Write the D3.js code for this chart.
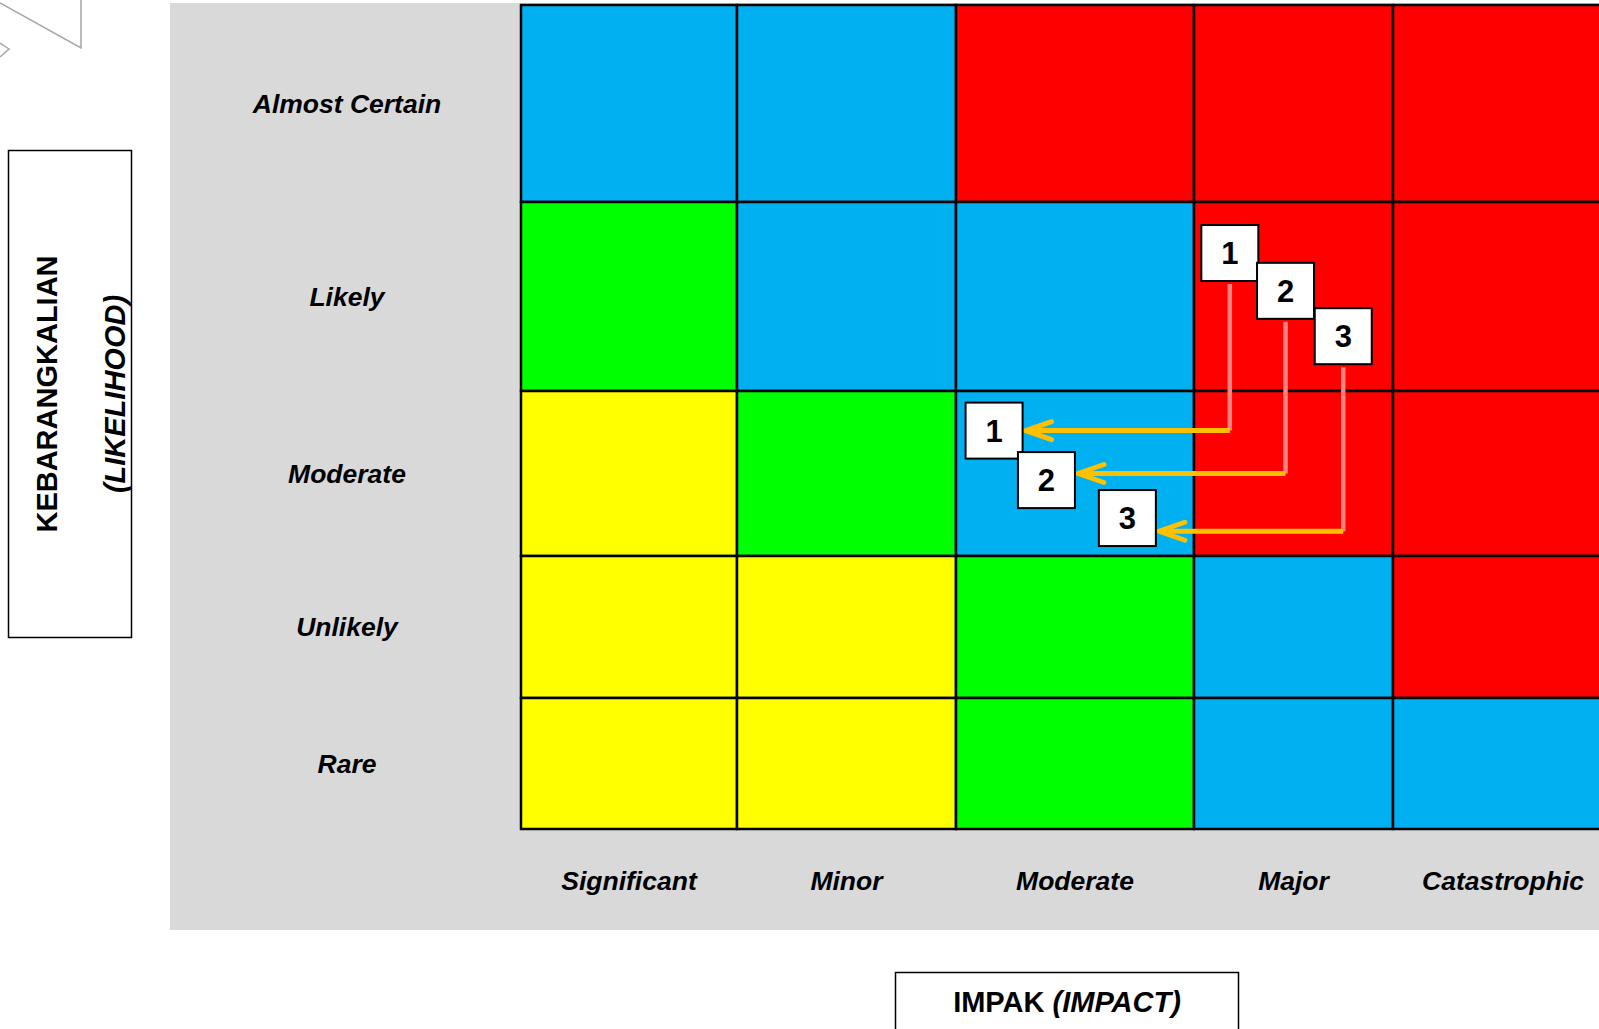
<!DOCTYPE html>
<html>
<head>
<meta charset="utf-8">
<script src="https://cdn.jsdelivr.net/npm/d3@7"></script>
<style>
  html, body { margin: 0; padding: 0; background: #fff; overflow: hidden; }
  svg { display: block; font-family: "Liberation Sans", Arial, sans-serif; }
</style>
</head>
<body>
<svg id="chart" width="1599" height="1029"></svg>
<script>
// likelihood rows (top to bottom) and impact columns (left to right)
const likelihood = ["Almost Certain", "Likely", "Moderate", "Unlikely", "Rare"];
const impact = ["Significant", "Minor", "Moderate", "Major", "Catastrophic"];

// risk level of every cell, row by row
const riskLevel = [
  ["H", "H", "E", "E", "E"],
  ["M", "H", "H", "E", "E"],
  ["L", "M", "H", "E", "E"],
  ["L", "L", "M", "H", "E"],
  ["L", "L", "M", "H", "H"]
];

// risk markers: position before and after treatment (in impact / likelihood units)
const markerIds = ["1", "2", "3"];
const beforeImpact = [3.18, 3.46, 3.75];
const beforeLikelihood = [1.27, 1.47, 1.71];
const afterImpact = [2.16, 2.38, 2.72];
const afterLikelihood = [2.24, 2.54, 2.77];
const arrowLikelihood = [2.24, 2.50, 2.85];

const levelColor = { L: "#FFFF00", M: "#00FF00", H: "#00B0F0", E: "#FF0000" };

const svg = d3.select("#chart");

// column and row edges are uneven in the original, so use piecewise scales
const x = d3.scaleLinear().domain(d3.range(6)).range([521, 737, 956, 1194, 1393, 1613]);
const y = d3.scaleLinear().domain(d3.range(6)).range([5, 202, 391, 556, 698, 829]);

// decoration in the top-left corner
const deco = svg.append("g").attr("fill", "none").attr("stroke", "#a6a6a6").attr("stroke-width", 1.5);
deco.append("path").attr("d", "M0,3 L81,48 L81,0");
deco.append("path").attr("d", "M0,43 L9,49 L0,57");

// gray panel
svg.append("rect")
  .attr("x", 170).attr("y", 3)
  .attr("width", 1599 - 170).attr("height", 927)
  .attr("fill", "#D9D9D9");

// cells
const cells = [];
riskLevel.forEach((row, r) => row.forEach((lv, c) => cells.push({ r, c, lv })));

svg.append("g")
  .selectAll("rect")
  .data(cells)
  .join("rect")
  .attr("x", d => x(d.c))
  .attr("y", d => y(d.r))
  .attr("width", d => x(d.c + 1) - x(d.c))
  .attr("height", d => y(d.r + 1) - y(d.r))
  .attr("fill", d => levelColor[d.lv])
  .attr("stroke", "#000")
  .attr("stroke-width", 2.5);

// row labels
svg.append("g")
  .selectAll("text")
  .data(likelihood)
  .join("text")
  .attr("x", 347)
  .attr("y", (d, i) => (y(i) + y(i + 1)) / 2)
  .attr("dy", "0.35em")
  .attr("text-anchor", "middle")
  .style("font-size", "26.5px")
  .style("font-weight", "bold")
  .style("font-style", "italic")
  .text(d => d);

// column labels
svg.append("g")
  .selectAll("text")
  .data(impact)
  .join("text")
  .attr("x", (d, i) => (x(i) + x(i + 1)) / 2)
  .attr("y", 881)
  .attr("dy", "0.35em")
  .attr("text-anchor", "middle")
  .style("font-size", "26.5px")
  .style("font-weight", "bold")
  .style("font-style", "italic")
  .text(d => d);

// axis title boxes
svg.append("rect")
  .attr("x", 8.5).attr("y", 150.5).attr("width", 123).attr("height", 487)
  .attr("fill", "#fff").attr("stroke", "#000").attr("stroke-width", 1.5);

const yTitle = svg.append("g").attr("transform", "translate(0,394) rotate(-90)");
yTitle.append("text")
  .attr("x", 0).attr("y", 47).attr("dy", "0.35em")
  .attr("text-anchor", "middle")
  .style("font-size", "29px").style("font-weight", "bold")
  .text("KEBARANGKALIAN");
yTitle.append("text")
  .attr("x", 0).attr("y", 115).attr("dy", "0.35em")
  .attr("text-anchor", "middle")
  .style("font-size", "29px").style("font-weight", "bold").style("font-style", "italic")
  .text("(LIKELIHOOD)");

svg.append("rect")
  .attr("x", 895.5).attr("y", 972.5).attr("width", 343).attr("height", 80)
  .attr("fill", "#fff").attr("stroke", "#000").attr("stroke-width", 1.5);

const xTitle = svg.append("text")
  .attr("x", 1067).attr("y", 1002).attr("dy", "0.35em")
  .attr("text-anchor", "middle")
  .style("font-size", "29px").style("font-weight", "bold");
xTitle.append("tspan").text("IMPAK ");
xTitle.append("tspan").style("font-style", "italic").text("(IMPACT)");

// marker data
const boxW = 57, boxH = 56;
const markers = markerIds.map((id, i) => ({
  id,
  bx: x(beforeImpact[i]), by: y(beforeLikelihood[i]),
  ax: x(afterImpact[i]), ay: y(afterLikelihood[i]),
  arrowY: y(arrowLikelihood[i])
}));

// connectors: pink drop line then orange arrow pointing left
const conn = svg.append("g").attr("fill", "none");
conn.selectAll("path.drop")
  .data(markers)
  .join("path")
  .attr("class", "drop")
  .attr("d", d => `M${d.bx},${d.by + boxH / 2 + 3} L${d.bx},${d.arrowY}`)
  .attr("stroke", "#FF8080")
  .attr("stroke-width", 4.5);

conn.selectAll("path.arrow")
  .data(markers)
  .join("path")
  .attr("class", "arrow")
  .attr("d", d => {
    const tip = d.ax + boxW / 2 + 3;
    return `M${d.bx},${d.arrowY} L${tip},${d.arrowY}`;
  })
  .attr("stroke", "#FFC000")
  .attr("stroke-width", 5);

conn.selectAll("path.head")
  .data(markers)
  .join("path")
  .attr("class", "head")
  .attr("d", d => {
    const tip = d.ax + boxW / 2 + 3;
    return `M${tip + 26},${d.arrowY - 9} L${tip},${d.arrowY} L${tip + 26},${d.arrowY + 9}`;
  })
  .attr("stroke", "#FFC000")
  .attr("stroke-width", 5)
  .attr("stroke-linejoin", "round")
  .attr("stroke-linecap", "round");

// numbered boxes
function drawBoxes(cls, px, py) {
  const g = svg.append("g").selectAll("g." + cls)
    .data(markers)
    .join("g")
    .attr("class", cls)
    .attr("transform", d => `translate(${px(d)},${py(d)})`);
  g.append("rect")
    .attr("x", -boxW / 2).attr("y", -boxH / 2)
    .attr("width", boxW).attr("height", boxH)
    .attr("fill", "#fff").attr("stroke", "#000").attr("stroke-width", 2);
  g.append("text")
    .attr("text-anchor", "middle").attr("dy", "0.36em")
    .style("font-size", "31px").style("font-weight", "bold")
    .text(d => d.id);
}
drawBoxes("before", d => d.bx, d => d.by);
drawBoxes("after", d => d.ax, d => d.ay);
</script>
</body>
</html>
